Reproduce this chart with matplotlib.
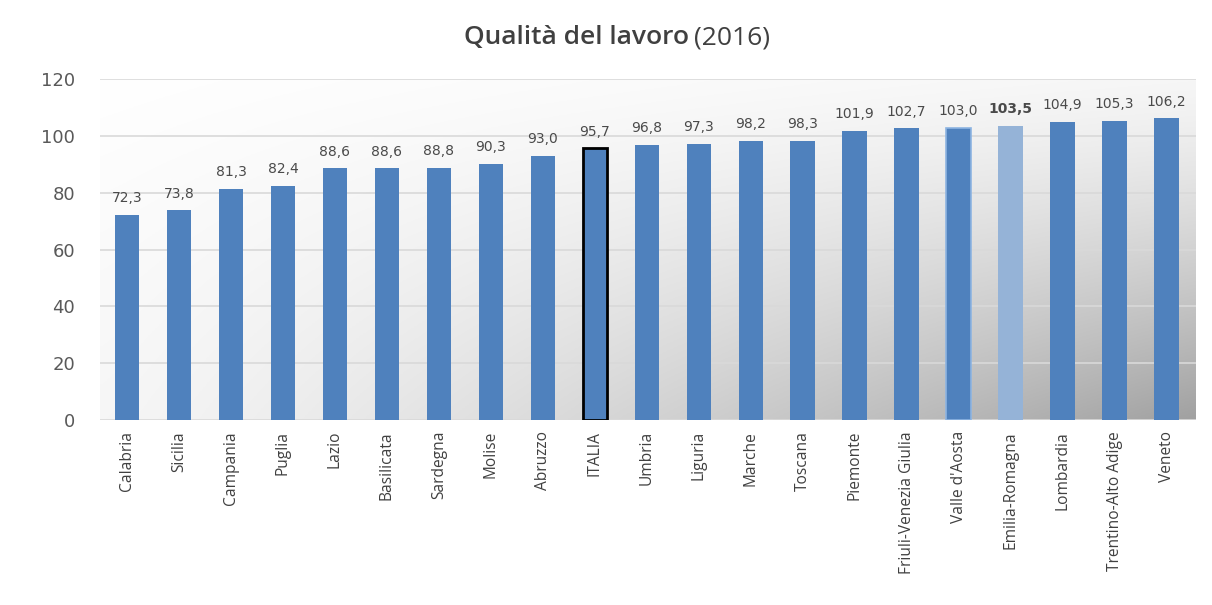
import numpy as np
import matplotlib.pyplot as plt

regions = ['Calabria', 'Sicilia', 'Campania', 'Puglia', 'Lazio', 'Basilicata',
           'Sardegna', 'Molise', 'Abruzzo', 'ITALIA', 'Umbria', 'Liguria',
           'Marche', 'Toscana', 'Piemonte', 'Friuli-Venezia Giulia',
           "Valle d'Aosta", 'Emilia-Romagna', 'Lombardia', 'Trentino-Alto Adige',
           'Veneto']
values = [72.3, 73.8, 81.3, 82.4, 88.6, 88.6, 88.8, 90.3, 93.0, 95.7, 96.8,
          97.3, 98.2, 98.3, 101.9, 102.7, 103.0, 103.5, 104.9, 105.3, 106.2]
yticks = [0, 20, 40, 60, 80, 100, 120]

fig = plt.figure(figsize=(12.12, 6.05), dpi=100)
ax = fig.add_axes([0.0825, 0.306, 0.904, 0.563])

# background gradient (white top-left -> gray bottom-right)
gx, gy = np.meshgrid(np.linspace(0, 1, 300), np.linspace(1, 0, 200))
shade = 1 - 0.07 * ((gx + (1 - gy)) / 2) - 0.30 * (gx * (1 - gy)) ** 1.3
ax.imshow(np.dstack([shade] * 3), extent=[-0.52, 20.56, 0, 120],
          aspect='auto', zorder=0, origin='upper')

x = np.arange(len(regions))
colors = ['#4F81BD'] * len(regions)
colors[regions.index('Emilia-Romagna')] = '#95B3D7'
bars = ax.bar(x, values, width=0.47, color=colors, zorder=3, linewidth=0)

it = regions.index('ITALIA')
bars[it].set_edgecolor('black')
bars[it].set_linewidth(2)
va = regions.index("Valle d'Aosta")
bars[va].set_edgecolor('#8DB4E2')
bars[va].set_linewidth(1.2)

for i, v in enumerate(values):
    lab = f'{v:.1f}'.replace('.', ',')
    ax.annotate(lab, (i, v), xytext=(0, 7), textcoords='offset points',
                ha='center', va='bottom', fontsize=10, color='#4a4a4a',
                fontweight='bold' if regions[i] == 'Emilia-Romagna' else 'normal')

ax.set_xlim(-0.52, 20.56)
ax.set_ylim(0, 120)
ax.set_yticks(yticks)
ax.yaxis.grid(True, color='#D9D9D9', linewidth=1.2, zorder=1)
ax.set_axisbelow(True)
for s in ax.spines.values():
    s.set_visible(False)
ax.tick_params(axis='both', length=0)
ax.tick_params(axis='y', labelsize=13, labelcolor='#595959', pad=18)
ax.set_xticks(x)
ax.set_xticklabels(regions, rotation=90, fontsize=11.2, color='#404040',
                   family='Open Sans')
ax.tick_params(axis='x', pad=8)

fig.text(0.5685, 0.938, 'Qualità del lavoro', ha='right', va='center',
         fontsize=19, fontweight='semibold', color='#404040', family='Open Sans')
fig.text(0.5725, 0.938, '(2016)', ha='left', va='center',
         fontsize=19, color='#404040', family='Open Sans')

fig.savefig('out.png', dpi=100)
